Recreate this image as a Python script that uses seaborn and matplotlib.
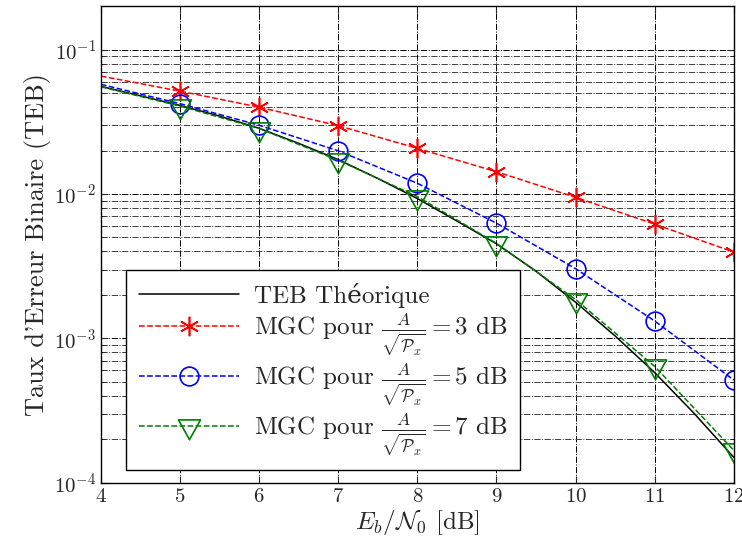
import numpy as np
import pandas as pd
import matplotlib
matplotlib.use("Agg")
import matplotlib.pyplot as plt
import seaborn as sns
from matplotlib.path import Path
from matplotlib.ticker import LogLocator, NullFormatter, MultipleLocator

# valeurs
ebn0 = [4, 5, 6, 7, 8, 9, 10, 11, 12]
teb_theo_x = [4, 4.5, 5, 5.5, 6, 6.5, 7, 7.5, 8, 8.5, 9, 9.5, 10, 10.5, 11, 11.5, 12]
teb_theo = [0.0556, 0.0478, 0.0410, 0.0346, 0.0285, 0.0224, 0.0173, 0.0128, 0.0093,
            0.0065, 0.00452, 0.00292, 0.00178, 0.00104, 0.00058, 0.000302, 0.000150]
mgc_3db = [0.0655, 0.0515, 0.0399, 0.0297, 0.0207, 0.01425, 0.00948, 0.00618, 0.00396]
mgc_5db = [0.0574, 0.0422, 0.0299, 0.0199, 0.01186, 0.00628, 0.00304, 0.00132, 0.000515]
mgc_7db = [0.0552, 0.0406, 0.0284, 0.0171, 0.0096, 0.00455, 0.00186, 0.00064, 0.000168]

sns.set_style("ticks")
plt.rcParams["font.family"] = ["cmr10", "DejaVu Serif"]
plt.rcParams["mathtext.fontset"] = "cm"
plt.rcParams["axes.formatter.use_mathtext"] = True
plt.rcParams["axes.unicode_minus"] = False

# triangle façon matlab : le point est au centre de gravité
tri = Path([(-1, 0.6), (1, 0.6), (0, -1.2), (-1, 0.6)],
           [Path.MOVETO, Path.LINETO, Path.LINETO, Path.CLOSEPOLY])

fig = plt.figure(figsize=(7.42, 5.5), dpi=100)
ax = fig.add_axes([0.136, 0.122, 0.853, 0.867])

df_theo = pd.DataFrame({"x": teb_theo_x, "y": teb_theo})
sns.lineplot(data=df_theo, x="x", y="y", ax=ax, color="k", lw=1.1,
             label="TEB Théorique")

series = [
    (mgc_3db, "r", (6, 2, 0), 14, "3"),
    (mgc_5db, "b", "o", 13.5, "5"),
    (mgc_7db, (0, 0.5, 0), tri, 19, "7"),
]
for vals, col, mk, ms, db in series:
    d = pd.DataFrame({"x": ebn0, "y": vals})
    sns.lineplot(data=d, x="x", y="y", ax=ax, color=col, lw=1.1, ls="--",
                 marker=mk, markersize=ms, markevery=list(range(1, len(ebn0))),
                 markerfacecolor="none", markeredgecolor=col, markeredgewidth=1.2,
                 label=r"MGC pour $\frac{A}{\sqrt{\mathcal{P}_x}} = " + db + r"$ dB")

ax.set_yscale("log")
ax.set_xlim(4, 12)
ax.set_ylim(1e-4, 0.2)
ax.xaxis.set_major_locator(MultipleLocator(1))
ax.yaxis.set_major_locator(LogLocator(base=10, numticks=10))
ax.yaxis.set_minor_locator(LogLocator(base=10, subs=np.arange(2, 10), numticks=20))
ax.yaxis.set_minor_formatter(NullFormatter())
ax.tick_params(which="both", direction="in", top=True, right=True, labelsize=15)
ax.tick_params(which="major", length=5)
ax.tick_params(which="minor", length=3)
ax.grid(True, which="major", ls="-.", color="k", lw=0.7)
ax.grid(True, which="minor", axis="y", ls="-.", color="0.25", lw=0.7)
for s in ax.spines.values():
    s.set_linewidth(1.0)
    s.set_color("k")

ax.set_xlabel(r"$E_b/\mathcal{N}_0$ [dB]", fontsize=18, labelpad=1)
ax.set_ylabel("Taux d'Erreur Binaire (TEB)", fontsize=19, labelpad=2)

leg = ax.legend(loc="lower left", bbox_to_anchor=(0.02, 0.0), fontsize=18,
                frameon=True, fancybox=False, edgecolor="k", framealpha=1,
                handlelength=4.0, labelspacing=0.15, borderpad=0.5,
                handletextpad=0.6)
leg.get_frame().set_linewidth(1.0)

fig.savefig("out.png", dpi=100)
